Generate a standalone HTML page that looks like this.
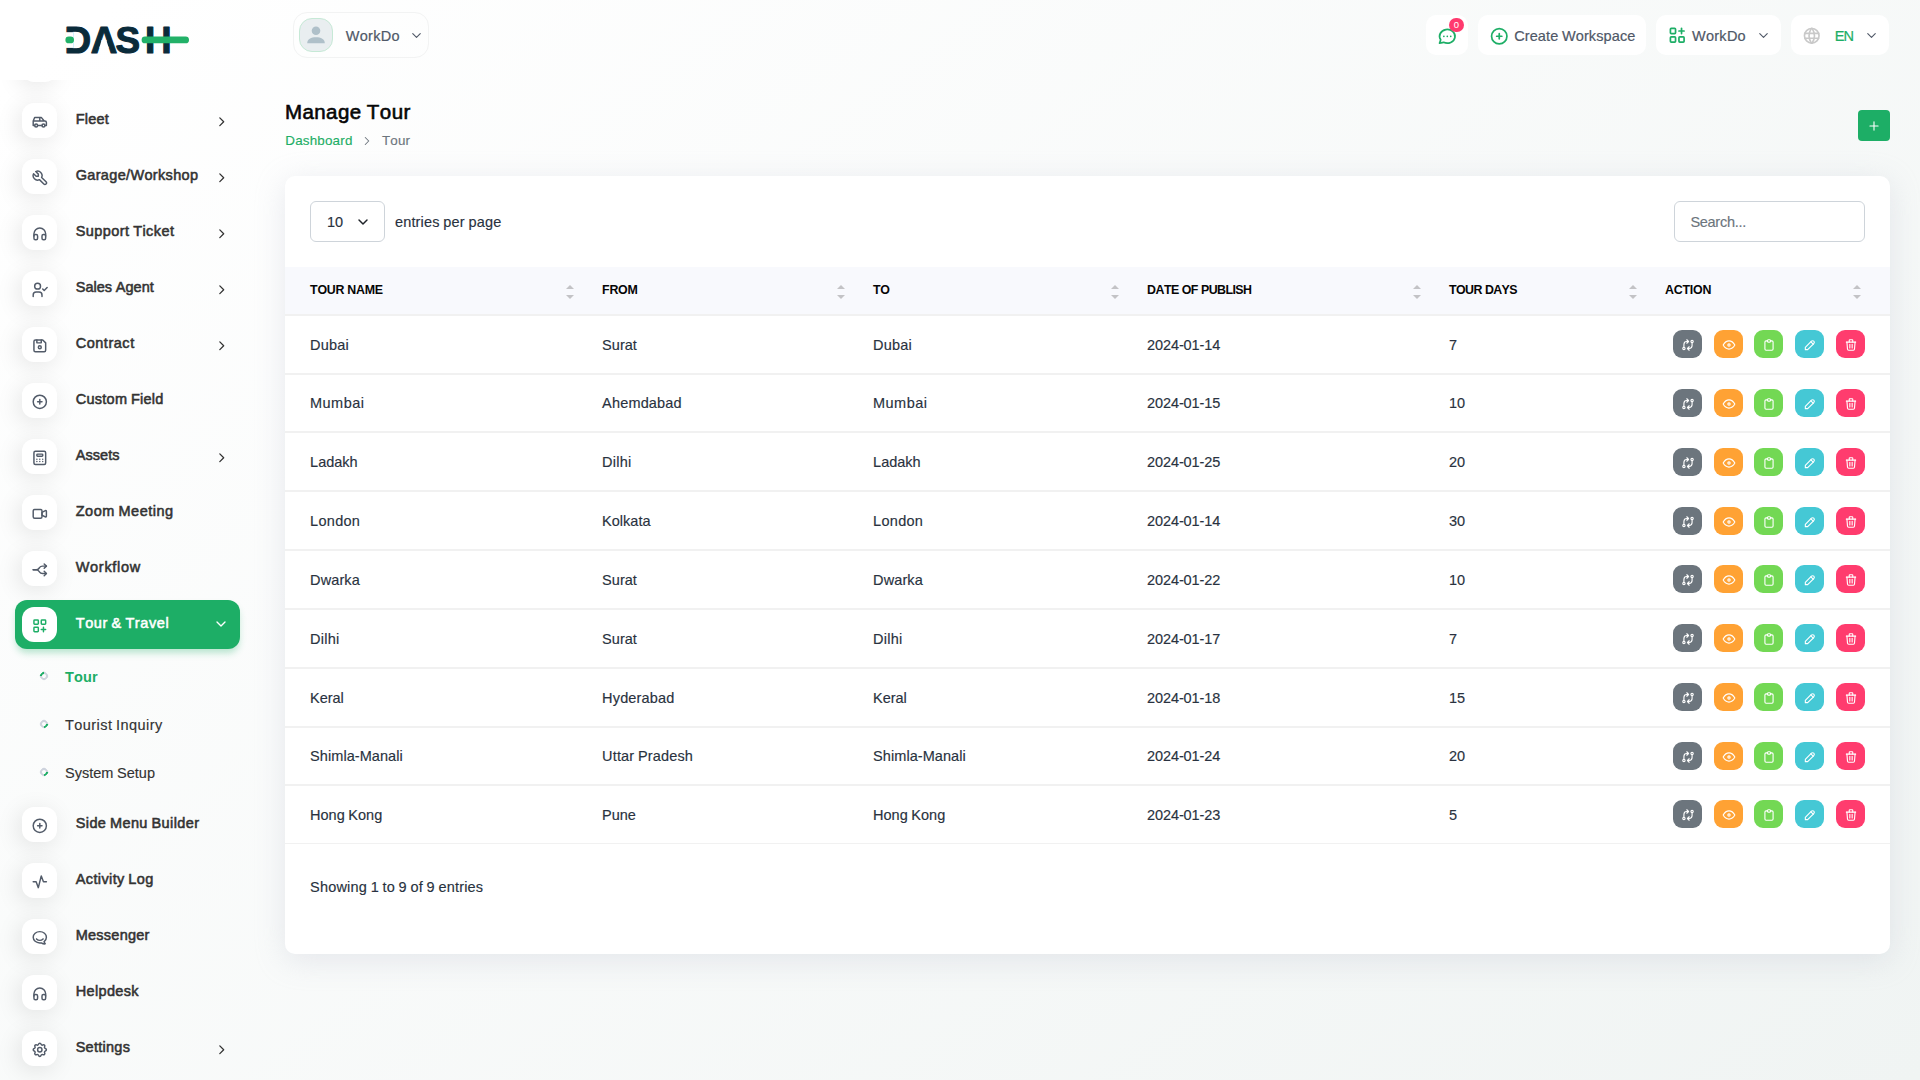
<!DOCTYPE html>
<html lang="en">
<head>
<meta charset="utf-8">
<title>Manage Tour</title>
<style>
*{box-sizing:border-box;margin:0;padding:0}
html,body{width:1920px;height:1080px;overflow:hidden}
body{font-family:"Liberation Sans",sans-serif;font-size:14px;line-height:1.5;color:#293240;font-kerning:none;
 background:linear-gradient(141.55deg,rgba(240,244,243,0) 3.46%,#f0f4f3 99.86%),#fff;position:relative}
svg.ti{display:block}
.abs,main span,main a,header span,nav span,nav a{position:absolute;white-space:nowrap}
a{text-decoration:none}
h4{position:absolute;white-space:nowrap;font-weight:400}
.sidebar{position:absolute;left:0;top:0;width:280px;height:1080px}
.logo{position:absolute;left:0;top:0;width:280px;height:80px}
.nav{position:absolute;left:0;top:80px;width:280px;height:1000px;overflow:hidden}
.mi{width:35px;height:35px;border-radius:12px;background:#fff;box-shadow:-3px 4px 23px rgba(0,0,0,.1)}
.act{left:15px;width:225px;height:49px;border-radius:12px;background:#1DAE66;box-shadow:0 5px 7px -1px rgba(29,174,102,.3)}
.dot{width:8px;height:8px;border-radius:50%;border:2px solid #ced3dd}
.hbox{position:absolute;top:15px;height:40px;background:#fff;border-radius:10px}
.user{position:absolute;left:293px;top:12px;width:136px;height:46px;border:1px solid #f2f3f3;border-radius:14px}
.addbtn{left:1858px;top:110px;width:32px;height:31px;border-radius:4px;background:#1DAE66;color:#fff}
.card{position:absolute;left:285px;top:176px;width:1605px;height:777.5px;background:#fff;border-radius:10px;box-shadow:0 6px 30px rgba(182,186,203,.3)}
.sel,.search{border:1px solid #ced4da;border-radius:6px;background:#fff}
.thead{left:285px;top:267px;width:1605px;height:47px;background:#f8f9fd}
.hr{left:285px;width:1605px;height:2px;background:#f1f1f1}
.btn{width:29px;height:28px;border-radius:9px;color:#fff}
.sort{width:8px;height:14px}
.sort:before,.sort:after{content:"";position:absolute;left:0;border-left:4px solid transparent;border-right:4px solid transparent}
.sort:before{top:0;border-bottom:4px solid #c3c3c6}
.sort:after{bottom:0;border-top:4px solid #c3c3c6}
</style>
</head>
<body>
<nav class="sidebar">
<div class="nav">
<span class="mi" style="left:22px;top:-33px"></span>
<span class="mi" style="left:22px;top:23.0px;"></span><span class="abs" style="left:30.70px;top:33.10px;color:#525b69"><svg class="ti " style="" width="17.6" height="17.6" viewBox="0 0 24 24" fill="none" stroke="currentColor" stroke-width="2" stroke-linecap="round" stroke-linejoin="round"><circle cx="7" cy="17" r="2"/><circle cx="17" cy="17" r="2"/><path d="M5 17h-2v-6l2 -5h9l4 5h1a2 2 0 0 1 2 2v4h-2m-4 0h-6m-6 -6h15m-6 0v-5"/></svg></span><a style="left:75.70px;top:28.98px;font-size:14.5px;line-height:20px;color:#333;letter-spacing:0.233px;-webkit-text-stroke:0.55px #333;">Fleet</a><span class="abs" style="left:214.25px;top:34.35px;color:#333"><svg class="ti " style="" width="15.5" height="15.5" viewBox="0 0 24 24" fill="none" stroke="currentColor" stroke-width="2" stroke-linecap="round" stroke-linejoin="round"><polyline points="9 6 15 12 9 18"/></svg></span>
<span class="mi" style="left:22px;top:79.0px;"></span><span class="abs" style="left:30.70px;top:89.10px;color:#525b69"><svg class="ti " style="" width="17.6" height="17.6" viewBox="0 0 24 24" fill="none" stroke="currentColor" stroke-width="2" stroke-linecap="round" stroke-linejoin="round"><path d="M7 10h3v-3l-3.5 -3.5a6 6 0 0 1 8 8l6 6a2 2 0 0 1 -3 3l-6 -6a6 6 0 0 1 -8 -8l3.5 3.5"/></svg></span><a style="left:75.70px;top:84.98px;font-size:14.5px;line-height:20px;color:#333;letter-spacing:0.336px;-webkit-text-stroke:0.55px #333;">Garage/Workshop</a><span class="abs" style="left:214.25px;top:90.35px;color:#333"><svg class="ti " style="" width="15.5" height="15.5" viewBox="0 0 24 24" fill="none" stroke="currentColor" stroke-width="2" stroke-linecap="round" stroke-linejoin="round"><polyline points="9 6 15 12 9 18"/></svg></span>
<span class="mi" style="left:22px;top:135.0px;"></span><span class="abs" style="left:30.70px;top:145.10px;color:#525b69"><svg class="ti " style="" width="17.6" height="17.6" viewBox="0 0 24 24" fill="none" stroke="currentColor" stroke-width="2" stroke-linecap="round" stroke-linejoin="round"><rect x="4" y="13" rx="2" width="5" height="7"/><rect x="15" y="13" rx="2" width="5" height="7"/><path d="M4 15v-3a8 8 0 0 1 16 0v3"/></svg></span><a style="left:75.70px;top:140.98px;font-size:14.5px;line-height:20px;color:#333;letter-spacing:0.431px;word-spacing:-0.823px;-webkit-text-stroke:0.55px #333;">Support Ticket</a><span class="abs" style="left:214.25px;top:146.35px;color:#333"><svg class="ti " style="" width="15.5" height="15.5" viewBox="0 0 24 24" fill="none" stroke="currentColor" stroke-width="2" stroke-linecap="round" stroke-linejoin="round"><polyline points="9 6 15 12 9 18"/></svg></span>
<span class="mi" style="left:22px;top:191.0px;"></span><span class="abs" style="left:30.70px;top:201.10px;color:#525b69"><svg class="ti " style="" width="17.6" height="17.6" viewBox="0 0 24 24" fill="none" stroke="currentColor" stroke-width="2" stroke-linecap="round" stroke-linejoin="round"><circle cx="9" cy="7" r="4"/><path d="M3 21v-2a4 4 0 0 1 4 -4h4a4 4 0 0 1 4 4v2"/><path d="M16 11l2 2l4 -4"/></svg></span><a style="left:75.70px;top:196.98px;font-size:14.5px;line-height:20px;color:#333;letter-spacing:0.040px;word-spacing:-0.432px;-webkit-text-stroke:0.55px #333;">Sales Agent</a><span class="abs" style="left:214.25px;top:202.35px;color:#333"><svg class="ti " style="" width="15.5" height="15.5" viewBox="0 0 24 24" fill="none" stroke="currentColor" stroke-width="2" stroke-linecap="round" stroke-linejoin="round"><polyline points="9 6 15 12 9 18"/></svg></span>
<span class="mi" style="left:22px;top:247.0px;"></span><span class="abs" style="left:30.70px;top:257.10px;color:#525b69"><svg class="ti " style="" width="17.6" height="17.6" viewBox="0 0 24 24" fill="none" stroke="currentColor" stroke-width="2" stroke-linecap="round" stroke-linejoin="round"><path d="M6 4h10l4 4v10a2 2 0 0 1 -2 2h-12a2 2 0 0 1 -2 -2v-12a2 2 0 0 1 2 -2"/><circle cx="12" cy="14" r="2"/><polyline points="14 4 14 8 8 8 8 4"/></svg></span><a style="left:75.70px;top:252.98px;font-size:14.5px;line-height:20px;color:#333;letter-spacing:0.525px;-webkit-text-stroke:0.55px #333;">Contract</a><span class="abs" style="left:214.25px;top:258.35px;color:#333"><svg class="ti " style="" width="15.5" height="15.5" viewBox="0 0 24 24" fill="none" stroke="currentColor" stroke-width="2" stroke-linecap="round" stroke-linejoin="round"><polyline points="9 6 15 12 9 18"/></svg></span>
<span class="mi" style="left:22px;top:303.0px;"></span><span class="abs" style="left:30.70px;top:313.10px;color:#525b69"><svg class="ti " style="" width="17.6" height="17.6" viewBox="0 0 24 24" fill="none" stroke="currentColor" stroke-width="2" stroke-linecap="round" stroke-linejoin="round"><circle cx="12" cy="12" r="9"/><line x1="9" y1="12" x2="15" y2="12"/><line x1="12" y1="9" x2="12" y2="15"/></svg></span><a style="left:75.70px;top:308.98px;font-size:14.5px;line-height:20px;color:#333;letter-spacing:0.271px;word-spacing:-0.663px;-webkit-text-stroke:0.55px #333;">Custom Field</a>
<span class="mi" style="left:22px;top:359.0px;"></span><span class="abs" style="left:30.70px;top:369.10px;color:#525b69"><svg class="ti " style="" width="17.6" height="17.6" viewBox="0 0 24 24" fill="none" stroke="currentColor" stroke-width="2" stroke-linecap="round" stroke-linejoin="round"><rect x="4" y="3" width="16" height="18" rx="2"/><rect x="8" y="7" width="8" height="3" rx="1"/><line x1="8" y1="14" x2="8" y2="14.01"/><line x1="12" y1="14" x2="12" y2="14.01"/><line x1="16" y1="14" x2="16" y2="14.01"/><line x1="8" y1="17" x2="8" y2="17.01"/><line x1="12" y1="17" x2="12" y2="17.01"/><line x1="16" y1="17" x2="16" y2="17.01"/></svg></span><a style="left:75.70px;top:364.98px;font-size:14.5px;line-height:20px;color:#333;letter-spacing:0.081px;-webkit-text-stroke:0.55px #333;">Assets</a><span class="abs" style="left:214.25px;top:370.35px;color:#333"><svg class="ti " style="" width="15.5" height="15.5" viewBox="0 0 24 24" fill="none" stroke="currentColor" stroke-width="2" stroke-linecap="round" stroke-linejoin="round"><polyline points="9 6 15 12 9 18"/></svg></span>
<span class="mi" style="left:22px;top:415.0px;"></span><span class="abs" style="left:30.70px;top:425.10px;color:#525b69"><svg class="ti " style="" width="17.6" height="17.6" viewBox="0 0 24 24" fill="none" stroke="currentColor" stroke-width="2" stroke-linecap="round" stroke-linejoin="round"><path d="M15 10l4.553 -2.276a1 1 0 0 1 1.447 .894v6.764a1 1 0 0 1 -1.447 .894l-4.553 -2.276v-4z"/><rect x="3" y="6" width="12" height="12" rx="2"/></svg></span><a style="left:75.70px;top:420.98px;font-size:14.5px;line-height:20px;color:#333;letter-spacing:0.519px;word-spacing:-0.911px;-webkit-text-stroke:0.55px #333;">Zoom Meeting</a>
<span class="mi" style="left:22px;top:471.0px;"></span><span class="abs" style="left:30.70px;top:481.10px;color:#525b69"><svg class="ti " style="" width="17.6" height="17.6" viewBox="0 0 24 24" fill="none" stroke="currentColor" stroke-width="2" stroke-linecap="round" stroke-linejoin="round"><path d="M21 17h-5.397a5 5 0 0 1 -4.096 -2.133l-.514 -.734a5 5 0 0 0 -4.096 -2.133h-3.897"/><path d="M21 7h-5.395a5 5 0 0 0 -4.098 2.135l-.51 .73a5 5 0 0 1 -4.097 2.135h-3.9"/><path d="M18 10l3 -3l-3 -3"/><path d="M18 20l3 -3l-3 -3"/></svg></span><a style="left:75.70px;top:476.98px;font-size:14.5px;line-height:20px;color:#333;letter-spacing:0.704px;-webkit-text-stroke:0.55px #333;">Workflow</a>
<span class="act" style="top:520.0px"></span><span class="mi" style="left:22px;top:527.0px;box-shadow:none"></span><span class="abs" style="left:30.70px;top:537.10px;color:#1DAE66"><svg class="ti " style="" width="17.6" height="17.6" viewBox="0 0 24 24" fill="none" stroke="currentColor" stroke-width="2" stroke-linecap="round" stroke-linejoin="round"><rect x="4" y="4" width="6" height="6" rx="1"/><rect x="14" y="4" width="6" height="6" rx="1"/><rect x="4" y="14" width="6" height="6" rx="1"/><path d="M14 17h6m-3 -3v6"/></svg></span><a style="left:75.70px;top:532.98px;font-size:14.5px;line-height:20px;color:#fff;letter-spacing:0.587px;word-spacing:-0.979px;-webkit-text-stroke:0.55px #fff;">Tour &amp; Travel</a><span class="abs" style="left:212.70px;top:535.90px;color:#fff"><svg class="ti " style="" width="16" height="16" viewBox="0 0 24 24" fill="none" stroke="currentColor" stroke-width="2" stroke-linecap="round" stroke-linejoin="round"><polyline points="6 9 12 15 18 9"/></svg></span>
<span class="dot" style="left:40px;top:592.3px;border-left-color:#1DAE66;transform:rotate(45deg)"></span><a style="left:65.10px;top:586.98px;font-size:14.5px;line-height:20px;color:#1DAE66;letter-spacing:0.121px;font-weight:700;">Tour</a>
<span class="dot" style="left:40px;top:640.3px;border-bottom-color:#1DAE66;transform:rotate(-45deg)"></span><a style="left:65.00px;top:634.98px;font-size:14.5px;line-height:20px;color:#333;letter-spacing:0.434px;word-spacing:-0.774px;-webkit-text-stroke:0.15px #333;">Tourist Inquiry</a>
<span class="dot" style="left:40px;top:688.3px;border-bottom-color:#1DAE66;transform:rotate(-45deg)"></span><a style="left:65.00px;top:682.98px;font-size:14.5px;line-height:20px;color:#333;letter-spacing:0.007px;word-spacing:-0.347px;-webkit-text-stroke:0.15px #333;">System Setup</a>
<span class="mi" style="left:22px;top:727.0px;"></span><span class="abs" style="left:30.70px;top:737.10px;color:#525b69"><svg class="ti " style="" width="17.6" height="17.6" viewBox="0 0 24 24" fill="none" stroke="currentColor" stroke-width="2" stroke-linecap="round" stroke-linejoin="round"><circle cx="12" cy="12" r="9"/><line x1="9" y1="12" x2="15" y2="12"/><line x1="12" y1="9" x2="12" y2="15"/></svg></span><a style="left:75.70px;top:732.98px;font-size:14.5px;line-height:20px;color:#333;letter-spacing:0.403px;word-spacing:-0.795px;-webkit-text-stroke:0.55px #333;">Side Menu Builder</a>
<span class="mi" style="left:22px;top:783.0px;"></span><span class="abs" style="left:30.70px;top:793.10px;color:#525b69"><svg class="ti " style="" width="17.6" height="17.6" viewBox="0 0 24 24" fill="none" stroke="currentColor" stroke-width="2" stroke-linecap="round" stroke-linejoin="round"><path d="M3 12h4l3 8l4 -16l3 8h4"/></svg></span><a style="left:75.70px;top:788.98px;font-size:14.5px;line-height:20px;color:#333;letter-spacing:0.386px;word-spacing:-0.778px;-webkit-text-stroke:0.55px #333;">Activity Log</a>
<span class="mi" style="left:22px;top:839.0px;"></span><span class="abs" style="left:30.70px;top:849.10px;color:#525b69"><svg class="ti " style="" width="17.6" height="17.6" viewBox="0 0 24 24" fill="none" stroke="currentColor" stroke-width="2" stroke-linecap="round" stroke-linejoin="round"><path d="M17.802 17.292s.077 -.055 .2 -.149c1.843 -1.425 3 -3.49 3 -5.789c0 -4.286 -4.03 -7.764 -9 -7.764c-4.97 0 -9 3.478 -9 7.764c0 4.288 4.03 7.646 9 7.646c.424 0 1.12 -.028 2.088 -.084c1.262 .82 3.104 1.493 4.716 1.493c.499 0 .734 -.41 .414 -.828c-.486 -.596 -1.156 -1.551 -1.416 -2.29z"/><path d="M7.5 13.5c2.5 2.5 6.5 2.5 9 0"/></svg></span><a style="left:75.70px;top:844.98px;font-size:14.5px;line-height:20px;color:#333;letter-spacing:0.252px;-webkit-text-stroke:0.55px #333;">Messenger</a>
<span class="mi" style="left:22px;top:895.0px;"></span><span class="abs" style="left:30.70px;top:905.10px;color:#525b69"><svg class="ti " style="" width="17.6" height="17.6" viewBox="0 0 24 24" fill="none" stroke="currentColor" stroke-width="2" stroke-linecap="round" stroke-linejoin="round"><rect x="4" y="13" rx="2" width="5" height="7"/><rect x="15" y="13" rx="2" width="5" height="7"/><path d="M4 15v-3a8 8 0 0 1 16 0v3"/></svg></span><a style="left:75.70px;top:900.98px;font-size:14.5px;line-height:20px;color:#333;letter-spacing:0.350px;-webkit-text-stroke:0.55px #333;">Helpdesk</a>
<span class="mi" style="left:22px;top:951.0px;"></span><span class="abs" style="left:30.70px;top:961.10px;color:#525b69"><svg class="ti " style="" width="17.6" height="17.6" viewBox="0 0 24 24" fill="none" stroke="currentColor" stroke-width="2" stroke-linecap="round" stroke-linejoin="round"><path d="M10.325 4.317c.426 -1.756 2.924 -1.756 3.35 0a1.724 1.724 0 0 0 2.573 1.066c1.543 -.94 3.31 .826 2.37 2.37a1.724 1.724 0 0 0 1.065 2.572c1.756 .426 1.756 2.924 0 3.35a1.724 1.724 0 0 0 -1.066 2.573c.94 1.543 -.826 3.31 -2.37 2.37a1.724 1.724 0 0 0 -2.572 1.065c-.426 1.756 -2.924 1.756 -3.35 0a1.724 1.724 0 0 0 -2.573 -1.066c-1.543 .94 -3.31 -.826 -2.37 -2.37a1.724 1.724 0 0 0 -1.065 -2.572c-1.756 -.426 -1.756 -2.924 0 -3.35a1.724 1.724 0 0 0 1.066 -2.573c-.94 -1.543 .826 -3.31 2.37 -2.37c1 .608 2.296 .07 2.572 -1.065z"/><circle cx="12" cy="12" r="3"/></svg></span><a style="left:75.70px;top:956.98px;font-size:14.5px;line-height:20px;color:#333;letter-spacing:0.263px;-webkit-text-stroke:0.55px #333;">Settings</a><span class="abs" style="left:214.25px;top:962.35px;color:#333"><svg class="ti " style="" width="15.5" height="15.5" viewBox="0 0 24 24" fill="none" stroke="currentColor" stroke-width="2" stroke-linecap="round" stroke-linejoin="round"><polyline points="9 6 15 12 9 18"/></svg></span>
</div>
<svg class="logo" viewBox="0 0 280 80" width="280" height="80">
<text y="52.7" font-family="'Liberation Sans',sans-serif" font-weight="700" font-size="36.8" fill="#0a2b3a" stroke="#0a2b3a" stroke-width="1.1" stroke-linejoin="round" style="font-kerning:none" x="64.6 90.7 115.6 144.9">DASH</text>
<rect x="65.86" y="32.18" width="7.20" height="15.72" fill="#fff"/>
<polygon points="101.65,40.12 106.33,40.12 107.03,42.24 108.72,47.67 99.26,47.67 100.95,42.24" fill="#fff"/>
<rect x="65.4" y="36.5" width="8.6" height="6.8" rx="3.4" fill="#22b168"/>
<rect x="141.6" y="36.5" width="47.4" height="6.8" rx="3.4" fill="#22b168"/>
</svg>
</nav>
<header>
<div class="user"><span class="abs" style="left:5px;top:5px;width:34px;height:34px;border-radius:13px;background:#e9eef0;border:1px solid #c6e9d6;overflow:hidden"><svg class="abs" style="left:0;top:0" width="32" height="32" viewBox="0 0 32 32"><circle cx="16" cy="11.8" r="4.3" fill="#afc0c9"/><path d="M7.200 24.200c0-4.200 3.900-6 8.800-6s8.800 1.800 8.800 6z" fill="#afc0c9"/></svg></span><span style="left:51.80px;top:12.98px;font-size:14.5px;line-height:20px;color:#4f5867;letter-spacing:0.263px;-webkit-text-stroke:0.2px #4f5867;">WorkDo</span><span class="abs" style="left:114.90px;top:14.80px;color:#4f5867"><svg class="ti " style="" width="15" height="15" viewBox="0 0 24 24" fill="none" stroke="currentColor" stroke-width="1.8" stroke-linecap="round" stroke-linejoin="round"><polyline points="6 9 12 15 18 9"/></svg></span></div>
<div class="hbox" style="left:1426px;width:42px"><span class="abs" style="left:11.10px;top:10.70px;color:#1DAE66"><svg class="ti " style="" width="20.6" height="20.6" viewBox="0 0 24 24" fill="none" stroke="currentColor" stroke-width="2" stroke-linecap="round" stroke-linejoin="round"><path d="M3 20l1.3 -3.9a9 8 0 1 1 3.4 2.9l-4.7 1"/><line x1="12" y1="12" x2="12" y2="12.01"/><line x1="8" y1="12" x2="8" y2="12.01"/><line x1="16" y1="12" x2="16" y2="12.01"/></svg></span><span class="abs" style="left:23px;top:3px;width:15px;height:14px;border-radius:7.5px;background:#ff3a6e;color:#fff;font-size:9.5px;line-height:14px;text-align:center">0</span></div>
<div class="hbox" style="left:1478px;width:168px"><span class="abs" style="left:11.05px;top:10.65px;color:#1DAE66"><svg class="ti " style="" width="20.5" height="20.5" viewBox="0 0 24 24" fill="none" stroke="currentColor" stroke-width="2" stroke-linecap="round" stroke-linejoin="round"><circle cx="12" cy="12" r="9"/><line x1="9" y1="12" x2="15" y2="12"/><line x1="12" y1="9" x2="12" y2="15"/></svg></span><span style="left:36.20px;top:10.98px;font-size:14.5px;line-height:20px;color:#4f5867;letter-spacing:0.098px;word-spacing:-0.438px;-webkit-text-stroke:0.2px #4f5867;">Create Workspace</span></div>
<div class="hbox" style="left:1656px;width:125px"><span class="abs" style="left:11.05px;top:10.45px;color:#1DAE66"><svg class="ti " style="" width="20.5" height="20.5" viewBox="0 0 24 24" fill="none" stroke="currentColor" stroke-width="2" stroke-linecap="round" stroke-linejoin="round"><rect x="4" y="4" width="6" height="6" rx="1"/><rect x="4" y="14" width="6" height="6" rx="1"/><rect x="14" y="14" width="6" height="6" rx="1"/><line x1="14" y1="7" x2="20" y2="7"/><line x1="17" y1="4" x2="17" y2="10"/></svg></span><span style="left:36.00px;top:10.98px;font-size:14.5px;line-height:20px;color:#4f5867;letter-spacing:0.263px;-webkit-text-stroke:0.2px #4f5867;">WorkDo</span><span class="abs" style="left:99.80px;top:12.80px;color:#4f5867"><svg class="ti " style="" width="15" height="15" viewBox="0 0 24 24" fill="none" stroke="currentColor" stroke-width="1.8" stroke-linecap="round" stroke-linejoin="round"><polyline points="6 9 12 15 18 9"/></svg></span></div>
<div class="hbox" style="left:1791px;width:98px"><span class="abs" style="left:11.45px;top:10.95px;color:#c9c9c9"><svg class="ti " style="" width="19.5" height="19.5" viewBox="0 0 24 24" fill="none" stroke="currentColor" stroke-width="2" stroke-linecap="round" stroke-linejoin="round"><circle cx="12" cy="12" r="9"/><line x1="3.6" y1="9" x2="20.4" y2="9"/><line x1="3.6" y1="15" x2="20.4" y2="15"/><path d="M11.5 3a17 17 0 0 0 0 18"/><path d="M12.5 3a17 17 0 0 1 0 18"/></svg></span><span style="left:43.70px;top:10.98px;font-size:14.5px;line-height:20px;color:#1DAE66;letter-spacing:-0.763px;-webkit-text-stroke:0.2px #1DAE66;">EN</span><span class="abs" style="left:72.80px;top:12.80px;color:#4f5867"><svg class="ti " style="" width="15" height="15" viewBox="0 0 24 24" fill="none" stroke="currentColor" stroke-width="1.8" stroke-linecap="round" stroke-linejoin="round"><polyline points="6 9 12 15 18 9"/></svg></span></div>
</header>
<main>
<h4 style="left:284.90px;top:96.80px;font-size:20.5px;line-height:30px;color:#060606;letter-spacing:0.447px;word-spacing:-0.947px;-webkit-text-stroke:0.6px #060606;">Manage Tour</h4>
<a style="left:285.30px;top:130.66px;font-size:13.4px;line-height:20px;color:#1DAE66;letter-spacing:0.190px;-webkit-text-stroke:0.15px #1DAE66;">Dashboard</a><span class="abs" style="left:360.30px;top:133.70px;color:#6c757d"><svg class="ti " style="" width="14" height="14" viewBox="0 0 24 24" fill="none" stroke="currentColor" stroke-width="1.8" stroke-linecap="round" stroke-linejoin="round"><polyline points="9 6 15 12 9 18"/></svg></span><span style="left:381.90px;top:130.66px;font-size:13.4px;line-height:20px;color:#6c757d;letter-spacing:0.209px;-webkit-text-stroke:0.15px #6c757d;">Tour</span>
<a class="addbtn"><span class="abs" style="left:9.10px;top:8.50px;color:currentColor"><svg class="ti " style="" width="14" height="14" viewBox="0 0 24 24" fill="none" stroke="currentColor" stroke-width="1.9" stroke-linecap="round" stroke-linejoin="round"><line x1="12" y1="5" x2="12" y2="19"/><line x1="5" y1="12" x2="19" y2="12"/></svg></span></a>
<section class="card"></section>
<div class="abs sel" style="left:310px;top:201px;width:75px;height:41px"><span style="left:16.10px;top:9.98px;font-size:14.5px;line-height:20px;color:#293240;letter-spacing:-0.059px;-webkit-text-stroke:0.15px #293240;">10</span><span class="abs" style="left:44.00px;top:11.80px;color:#1f2329"><svg class="ti " style="" width="16" height="16" viewBox="0 0 24 24" fill="none" stroke="currentColor" stroke-width="2.2" stroke-linecap="round" stroke-linejoin="round"><polyline points="6 9 12 15 18 9"/></svg></span></div><span style="left:394.90px;top:211.98px;font-size:14.5px;line-height:20px;color:#293240;letter-spacing:0.182px;word-spacing:-0.574px;-webkit-text-stroke:0.15px #293240;">entries per page</span>
<div class="abs search" style="left:1674px;top:201px;width:191px;height:41px"><span style="left:15.40px;top:9.98px;font-size:14.5px;line-height:20px;color:#6c757d;letter-spacing:-0.277px;-webkit-text-stroke:0.15px #6c757d;">Search...</span></div>
<span class="thead"></span><span class="hr" style="top:314px"></span>
<span style="left:310.10px;top:279.70px;font-size:12.4px;line-height:20px;color:#060606;letter-spacing:-0.260px;word-spacing:-0.068px;font-weight:700;">TOUR NAME</span><i class="abs sort" style="left:565.5px;top:285px"></i><span style="left:602.10px;top:279.70px;font-size:12.4px;line-height:20px;color:#060606;letter-spacing:-0.283px;font-weight:700;">FROM</span><i class="abs sort" style="left:836.5px;top:285px"></i><span style="left:873.10px;top:279.70px;font-size:12.4px;line-height:20px;color:#060606;letter-spacing:-0.360px;font-weight:700;">TO</span><i class="abs sort" style="left:1110.5px;top:285px"></i><span style="left:1147.10px;top:279.70px;font-size:12.4px;line-height:20px;color:#060606;letter-spacing:-0.555px;word-spacing:0.227px;font-weight:700;">DATE OF PUBLISH</span><i class="abs sort" style="left:1412.5px;top:285px"></i><span style="left:1449.10px;top:279.70px;font-size:12.4px;line-height:20px;color:#060606;letter-spacing:-0.604px;word-spacing:0.276px;font-weight:700;">TOUR DAYS</span><i class="abs sort" style="left:1628.5px;top:285px"></i><span style="left:1665.10px;top:279.70px;font-size:12.4px;line-height:20px;color:#060606;letter-spacing:-0.229px;font-weight:700;">ACTION</span><i class="abs sort" style="left:1852.5px;top:285px"></i>
<span style="left:310.10px;top:334.98px;font-size:14.5px;line-height:20px;color:#293240;letter-spacing:0.176px;-webkit-text-stroke:0.15px #293240;">Dubai</span><span style="left:602.10px;top:334.98px;font-size:14.5px;line-height:20px;color:#293240;letter-spacing:0.025px;-webkit-text-stroke:0.15px #293240;">Surat</span><span style="left:873.10px;top:334.98px;font-size:14.5px;line-height:20px;color:#293240;letter-spacing:0.176px;-webkit-text-stroke:0.15px #293240;">Dubai</span><span style="left:1147.10px;top:334.98px;font-size:14.5px;line-height:20px;color:#293240;letter-spacing:-0.112px;-webkit-text-stroke:0.15px #293240;">2024-01-14</span><span style="left:1449.10px;top:334.98px;font-size:14.5px;line-height:20px;color:#293240;letter-spacing:-0.059px;-webkit-text-stroke:0.15px #293240;">7</span><a class="btn" style="left:1673px;top:330px;background:#6c757d"><span class="abs" style="left:7.50px;top:7.60px;color:currentColor"><svg class="ti " style="" width="14" height="14" viewBox="0 0 24 24" fill="none" stroke="currentColor" stroke-width="1.9" stroke-linecap="round" stroke-linejoin="round"><circle cx="5" cy="18" r="2"/><circle cx="19" cy="6" r="2"/><path d="M19 8v5a5 5 0 0 1 -5 5h-3l3 -3m0 6l-3 -3"/><path d="M5 16v-5a5 5 0 0 1 5 -5h3l-3 -3m0 6l3 -3"/></svg></span></a><a class="btn" style="left:1714px;top:330px;background:#ffa234"><span class="abs" style="left:7.50px;top:7.60px;color:currentColor"><svg class="ti " style="" width="14" height="14" viewBox="0 0 24 24" fill="none" stroke="currentColor" stroke-width="1.9" stroke-linecap="round" stroke-linejoin="round"><circle cx="12" cy="12" r="2"/><path d="M22 12c-2.667 4.667 -6 7 -10 7s-7.333 -2.333 -10 -7c2.667 -4.667 6 -7 10 -7s7.333 2.333 10 7"/></svg></span></a><a class="btn" style="left:1754px;top:330px;background:#73d854"><span class="abs" style="left:7.50px;top:7.60px;color:currentColor"><svg class="ti " style="" width="14" height="14" viewBox="0 0 24 24" fill="none" stroke="currentColor" stroke-width="1.9" stroke-linecap="round" stroke-linejoin="round"><path d="M9 5h-2a2 2 0 0 0 -2 2v12a2 2 0 0 0 2 2h10a2 2 0 0 0 2 -2v-12a2 2 0 0 0 -2 -2h-2"/><rect x="9" y="3" width="6" height="4" rx="2"/></svg></span></a><a class="btn" style="left:1795px;top:330px;background:#45c8d5"><span class="abs" style="left:7.50px;top:7.60px;color:currentColor"><svg class="ti " style="" width="14" height="14" viewBox="0 0 24 24" fill="none" stroke="currentColor" stroke-width="1.9" stroke-linecap="round" stroke-linejoin="round"><path d="M4 20h4l10.5 -10.5a1.5 1.5 0 0 0 -4 -4l-10.5 10.5v4"/><line x1="13.5" y1="6.5" x2="17.5" y2="10.5"/></svg></span></a><a class="btn" style="left:1836px;top:330px;background:#ff3c6e"><span class="abs" style="left:7.50px;top:7.60px;color:currentColor"><svg class="ti " style="" width="14" height="14" viewBox="0 0 24 24" fill="none" stroke="currentColor" stroke-width="1.9" stroke-linecap="round" stroke-linejoin="round"><line x1="4" y1="7" x2="20" y2="7"/><line x1="10" y1="11" x2="10" y2="17"/><line x1="14" y1="11" x2="14" y2="17"/><path d="M5 7l1 12a2 2 0 0 0 2 2h8a2 2 0 0 0 2 -2l1 -12"/><path d="M9 7v-3a1 1 0 0 1 1 -1h4a1 1 0 0 1 1 1v3"/></svg></span></a><span class="hr" style="top:373px"></span>
<span style="left:310.10px;top:392.98px;font-size:14.5px;line-height:20px;color:#293240;letter-spacing:0.442px;-webkit-text-stroke:0.15px #293240;">Mumbai</span><span style="left:602.10px;top:392.98px;font-size:14.5px;line-height:20px;color:#293240;letter-spacing:0.167px;-webkit-text-stroke:0.15px #293240;">Ahemdabad</span><span style="left:873.10px;top:392.98px;font-size:14.5px;line-height:20px;color:#293240;letter-spacing:0.442px;-webkit-text-stroke:0.15px #293240;">Mumbai</span><span style="left:1147.10px;top:392.98px;font-size:14.5px;line-height:20px;color:#293240;letter-spacing:-0.112px;-webkit-text-stroke:0.15px #293240;">2024-01-15</span><span style="left:1449.10px;top:392.98px;font-size:14.5px;line-height:20px;color:#293240;letter-spacing:-0.059px;-webkit-text-stroke:0.15px #293240;">10</span><a class="btn" style="left:1673px;top:389px;background:#6c757d"><span class="abs" style="left:7.50px;top:7.60px;color:currentColor"><svg class="ti " style="" width="14" height="14" viewBox="0 0 24 24" fill="none" stroke="currentColor" stroke-width="1.9" stroke-linecap="round" stroke-linejoin="round"><circle cx="5" cy="18" r="2"/><circle cx="19" cy="6" r="2"/><path d="M19 8v5a5 5 0 0 1 -5 5h-3l3 -3m0 6l-3 -3"/><path d="M5 16v-5a5 5 0 0 1 5 -5h3l-3 -3m0 6l3 -3"/></svg></span></a><a class="btn" style="left:1714px;top:389px;background:#ffa234"><span class="abs" style="left:7.50px;top:7.60px;color:currentColor"><svg class="ti " style="" width="14" height="14" viewBox="0 0 24 24" fill="none" stroke="currentColor" stroke-width="1.9" stroke-linecap="round" stroke-linejoin="round"><circle cx="12" cy="12" r="2"/><path d="M22 12c-2.667 4.667 -6 7 -10 7s-7.333 -2.333 -10 -7c2.667 -4.667 6 -7 10 -7s7.333 2.333 10 7"/></svg></span></a><a class="btn" style="left:1754px;top:389px;background:#73d854"><span class="abs" style="left:7.50px;top:7.60px;color:currentColor"><svg class="ti " style="" width="14" height="14" viewBox="0 0 24 24" fill="none" stroke="currentColor" stroke-width="1.9" stroke-linecap="round" stroke-linejoin="round"><path d="M9 5h-2a2 2 0 0 0 -2 2v12a2 2 0 0 0 2 2h10a2 2 0 0 0 2 -2v-12a2 2 0 0 0 -2 -2h-2"/><rect x="9" y="3" width="6" height="4" rx="2"/></svg></span></a><a class="btn" style="left:1795px;top:389px;background:#45c8d5"><span class="abs" style="left:7.50px;top:7.60px;color:currentColor"><svg class="ti " style="" width="14" height="14" viewBox="0 0 24 24" fill="none" stroke="currentColor" stroke-width="1.9" stroke-linecap="round" stroke-linejoin="round"><path d="M4 20h4l10.5 -10.5a1.5 1.5 0 0 0 -4 -4l-10.5 10.5v4"/><line x1="13.5" y1="6.5" x2="17.5" y2="10.5"/></svg></span></a><a class="btn" style="left:1836px;top:389px;background:#ff3c6e"><span class="abs" style="left:7.50px;top:7.60px;color:currentColor"><svg class="ti " style="" width="14" height="14" viewBox="0 0 24 24" fill="none" stroke="currentColor" stroke-width="1.9" stroke-linecap="round" stroke-linejoin="round"><line x1="4" y1="7" x2="20" y2="7"/><line x1="10" y1="11" x2="10" y2="17"/><line x1="14" y1="11" x2="14" y2="17"/><path d="M5 7l1 12a2 2 0 0 0 2 2h8a2 2 0 0 0 2 -2l1 -12"/><path d="M9 7v-3a1 1 0 0 1 1 -1h4a1 1 0 0 1 1 1v3"/></svg></span></a><span class="hr" style="top:431px"></span>
<span style="left:310.10px;top:451.98px;font-size:14.5px;line-height:20px;color:#293240;letter-spacing:-0.025px;-webkit-text-stroke:0.15px #293240;">Ladakh</span><span style="left:602.10px;top:451.98px;font-size:14.5px;line-height:20px;color:#293240;letter-spacing:0.257px;-webkit-text-stroke:0.15px #293240;">Dilhi</span><span style="left:873.10px;top:451.98px;font-size:14.5px;line-height:20px;color:#293240;letter-spacing:-0.025px;-webkit-text-stroke:0.15px #293240;">Ladakh</span><span style="left:1147.10px;top:451.98px;font-size:14.5px;line-height:20px;color:#293240;letter-spacing:-0.112px;-webkit-text-stroke:0.15px #293240;">2024-01-25</span><span style="left:1449.10px;top:451.98px;font-size:14.5px;line-height:20px;color:#293240;letter-spacing:-0.059px;-webkit-text-stroke:0.15px #293240;">20</span><a class="btn" style="left:1673px;top:448px;background:#6c757d"><span class="abs" style="left:7.50px;top:7.60px;color:currentColor"><svg class="ti " style="" width="14" height="14" viewBox="0 0 24 24" fill="none" stroke="currentColor" stroke-width="1.9" stroke-linecap="round" stroke-linejoin="round"><circle cx="5" cy="18" r="2"/><circle cx="19" cy="6" r="2"/><path d="M19 8v5a5 5 0 0 1 -5 5h-3l3 -3m0 6l-3 -3"/><path d="M5 16v-5a5 5 0 0 1 5 -5h3l-3 -3m0 6l3 -3"/></svg></span></a><a class="btn" style="left:1714px;top:448px;background:#ffa234"><span class="abs" style="left:7.50px;top:7.60px;color:currentColor"><svg class="ti " style="" width="14" height="14" viewBox="0 0 24 24" fill="none" stroke="currentColor" stroke-width="1.9" stroke-linecap="round" stroke-linejoin="round"><circle cx="12" cy="12" r="2"/><path d="M22 12c-2.667 4.667 -6 7 -10 7s-7.333 -2.333 -10 -7c2.667 -4.667 6 -7 10 -7s7.333 2.333 10 7"/></svg></span></a><a class="btn" style="left:1754px;top:448px;background:#73d854"><span class="abs" style="left:7.50px;top:7.60px;color:currentColor"><svg class="ti " style="" width="14" height="14" viewBox="0 0 24 24" fill="none" stroke="currentColor" stroke-width="1.9" stroke-linecap="round" stroke-linejoin="round"><path d="M9 5h-2a2 2 0 0 0 -2 2v12a2 2 0 0 0 2 2h10a2 2 0 0 0 2 -2v-12a2 2 0 0 0 -2 -2h-2"/><rect x="9" y="3" width="6" height="4" rx="2"/></svg></span></a><a class="btn" style="left:1795px;top:448px;background:#45c8d5"><span class="abs" style="left:7.50px;top:7.60px;color:currentColor"><svg class="ti " style="" width="14" height="14" viewBox="0 0 24 24" fill="none" stroke="currentColor" stroke-width="1.9" stroke-linecap="round" stroke-linejoin="round"><path d="M4 20h4l10.5 -10.5a1.5 1.5 0 0 0 -4 -4l-10.5 10.5v4"/><line x1="13.5" y1="6.5" x2="17.5" y2="10.5"/></svg></span></a><a class="btn" style="left:1836px;top:448px;background:#ff3c6e"><span class="abs" style="left:7.50px;top:7.60px;color:currentColor"><svg class="ti " style="" width="14" height="14" viewBox="0 0 24 24" fill="none" stroke="currentColor" stroke-width="1.9" stroke-linecap="round" stroke-linejoin="round"><line x1="4" y1="7" x2="20" y2="7"/><line x1="10" y1="11" x2="10" y2="17"/><line x1="14" y1="11" x2="14" y2="17"/><path d="M5 7l1 12a2 2 0 0 0 2 2h8a2 2 0 0 0 2 -2l1 -12"/><path d="M9 7v-3a1 1 0 0 1 1 -1h4a1 1 0 0 1 1 1v3"/></svg></span></a><span class="hr" style="top:490px"></span>
<span style="left:310.10px;top:510.98px;font-size:14.5px;line-height:20px;color:#293240;letter-spacing:0.280px;-webkit-text-stroke:0.15px #293240;">London</span><span style="left:602.10px;top:510.98px;font-size:14.5px;line-height:20px;color:#293240;letter-spacing:0.013px;-webkit-text-stroke:0.15px #293240;">Kolkata</span><span style="left:873.10px;top:510.98px;font-size:14.5px;line-height:20px;color:#293240;letter-spacing:0.280px;-webkit-text-stroke:0.15px #293240;">London</span><span style="left:1147.10px;top:510.98px;font-size:14.5px;line-height:20px;color:#293240;letter-spacing:-0.112px;-webkit-text-stroke:0.15px #293240;">2024-01-14</span><span style="left:1449.10px;top:510.98px;font-size:14.5px;line-height:20px;color:#293240;letter-spacing:-0.059px;-webkit-text-stroke:0.15px #293240;">30</span><a class="btn" style="left:1673px;top:507px;background:#6c757d"><span class="abs" style="left:7.50px;top:7.60px;color:currentColor"><svg class="ti " style="" width="14" height="14" viewBox="0 0 24 24" fill="none" stroke="currentColor" stroke-width="1.9" stroke-linecap="round" stroke-linejoin="round"><circle cx="5" cy="18" r="2"/><circle cx="19" cy="6" r="2"/><path d="M19 8v5a5 5 0 0 1 -5 5h-3l3 -3m0 6l-3 -3"/><path d="M5 16v-5a5 5 0 0 1 5 -5h3l-3 -3m0 6l3 -3"/></svg></span></a><a class="btn" style="left:1714px;top:507px;background:#ffa234"><span class="abs" style="left:7.50px;top:7.60px;color:currentColor"><svg class="ti " style="" width="14" height="14" viewBox="0 0 24 24" fill="none" stroke="currentColor" stroke-width="1.9" stroke-linecap="round" stroke-linejoin="round"><circle cx="12" cy="12" r="2"/><path d="M22 12c-2.667 4.667 -6 7 -10 7s-7.333 -2.333 -10 -7c2.667 -4.667 6 -7 10 -7s7.333 2.333 10 7"/></svg></span></a><a class="btn" style="left:1754px;top:507px;background:#73d854"><span class="abs" style="left:7.50px;top:7.60px;color:currentColor"><svg class="ti " style="" width="14" height="14" viewBox="0 0 24 24" fill="none" stroke="currentColor" stroke-width="1.9" stroke-linecap="round" stroke-linejoin="round"><path d="M9 5h-2a2 2 0 0 0 -2 2v12a2 2 0 0 0 2 2h10a2 2 0 0 0 2 -2v-12a2 2 0 0 0 -2 -2h-2"/><rect x="9" y="3" width="6" height="4" rx="2"/></svg></span></a><a class="btn" style="left:1795px;top:507px;background:#45c8d5"><span class="abs" style="left:7.50px;top:7.60px;color:currentColor"><svg class="ti " style="" width="14" height="14" viewBox="0 0 24 24" fill="none" stroke="currentColor" stroke-width="1.9" stroke-linecap="round" stroke-linejoin="round"><path d="M4 20h4l10.5 -10.5a1.5 1.5 0 0 0 -4 -4l-10.5 10.5v4"/><line x1="13.5" y1="6.5" x2="17.5" y2="10.5"/></svg></span></a><a class="btn" style="left:1836px;top:507px;background:#ff3c6e"><span class="abs" style="left:7.50px;top:7.60px;color:currentColor"><svg class="ti " style="" width="14" height="14" viewBox="0 0 24 24" fill="none" stroke="currentColor" stroke-width="1.9" stroke-linecap="round" stroke-linejoin="round"><line x1="4" y1="7" x2="20" y2="7"/><line x1="10" y1="11" x2="10" y2="17"/><line x1="14" y1="11" x2="14" y2="17"/><path d="M5 7l1 12a2 2 0 0 0 2 2h8a2 2 0 0 0 2 -2l1 -12"/><path d="M9 7v-3a1 1 0 0 1 1 -1h4a1 1 0 0 1 1 1v3"/></svg></span></a><span class="hr" style="top:549px"></span>
<span style="left:310.10px;top:569.98px;font-size:14.5px;line-height:20px;color:#293240;letter-spacing:0.095px;-webkit-text-stroke:0.15px #293240;">Dwarka</span><span style="left:602.10px;top:569.98px;font-size:14.5px;line-height:20px;color:#293240;letter-spacing:0.025px;-webkit-text-stroke:0.15px #293240;">Surat</span><span style="left:873.10px;top:569.98px;font-size:14.5px;line-height:20px;color:#293240;letter-spacing:0.095px;-webkit-text-stroke:0.15px #293240;">Dwarka</span><span style="left:1147.10px;top:569.98px;font-size:14.5px;line-height:20px;color:#293240;letter-spacing:-0.112px;-webkit-text-stroke:0.15px #293240;">2024-01-22</span><span style="left:1449.10px;top:569.98px;font-size:14.5px;line-height:20px;color:#293240;letter-spacing:-0.059px;-webkit-text-stroke:0.15px #293240;">10</span><a class="btn" style="left:1673px;top:565px;background:#6c757d"><span class="abs" style="left:7.50px;top:7.60px;color:currentColor"><svg class="ti " style="" width="14" height="14" viewBox="0 0 24 24" fill="none" stroke="currentColor" stroke-width="1.9" stroke-linecap="round" stroke-linejoin="round"><circle cx="5" cy="18" r="2"/><circle cx="19" cy="6" r="2"/><path d="M19 8v5a5 5 0 0 1 -5 5h-3l3 -3m0 6l-3 -3"/><path d="M5 16v-5a5 5 0 0 1 5 -5h3l-3 -3m0 6l3 -3"/></svg></span></a><a class="btn" style="left:1714px;top:565px;background:#ffa234"><span class="abs" style="left:7.50px;top:7.60px;color:currentColor"><svg class="ti " style="" width="14" height="14" viewBox="0 0 24 24" fill="none" stroke="currentColor" stroke-width="1.9" stroke-linecap="round" stroke-linejoin="round"><circle cx="12" cy="12" r="2"/><path d="M22 12c-2.667 4.667 -6 7 -10 7s-7.333 -2.333 -10 -7c2.667 -4.667 6 -7 10 -7s7.333 2.333 10 7"/></svg></span></a><a class="btn" style="left:1754px;top:565px;background:#73d854"><span class="abs" style="left:7.50px;top:7.60px;color:currentColor"><svg class="ti " style="" width="14" height="14" viewBox="0 0 24 24" fill="none" stroke="currentColor" stroke-width="1.9" stroke-linecap="round" stroke-linejoin="round"><path d="M9 5h-2a2 2 0 0 0 -2 2v12a2 2 0 0 0 2 2h10a2 2 0 0 0 2 -2v-12a2 2 0 0 0 -2 -2h-2"/><rect x="9" y="3" width="6" height="4" rx="2"/></svg></span></a><a class="btn" style="left:1795px;top:565px;background:#45c8d5"><span class="abs" style="left:7.50px;top:7.60px;color:currentColor"><svg class="ti " style="" width="14" height="14" viewBox="0 0 24 24" fill="none" stroke="currentColor" stroke-width="1.9" stroke-linecap="round" stroke-linejoin="round"><path d="M4 20h4l10.5 -10.5a1.5 1.5 0 0 0 -4 -4l-10.5 10.5v4"/><line x1="13.5" y1="6.5" x2="17.5" y2="10.5"/></svg></span></a><a class="btn" style="left:1836px;top:565px;background:#ff3c6e"><span class="abs" style="left:7.50px;top:7.60px;color:currentColor"><svg class="ti " style="" width="14" height="14" viewBox="0 0 24 24" fill="none" stroke="currentColor" stroke-width="1.9" stroke-linecap="round" stroke-linejoin="round"><line x1="4" y1="7" x2="20" y2="7"/><line x1="10" y1="11" x2="10" y2="17"/><line x1="14" y1="11" x2="14" y2="17"/><path d="M5 7l1 12a2 2 0 0 0 2 2h8a2 2 0 0 0 2 -2l1 -12"/><path d="M9 7v-3a1 1 0 0 1 1 -1h4a1 1 0 0 1 1 1v3"/></svg></span></a><span class="hr" style="top:608px"></span>
<span style="left:310.10px;top:628.98px;font-size:14.5px;line-height:20px;color:#293240;letter-spacing:0.257px;-webkit-text-stroke:0.15px #293240;">Dilhi</span><span style="left:602.10px;top:628.98px;font-size:14.5px;line-height:20px;color:#293240;letter-spacing:0.025px;-webkit-text-stroke:0.15px #293240;">Surat</span><span style="left:873.10px;top:628.98px;font-size:14.5px;line-height:20px;color:#293240;letter-spacing:0.257px;-webkit-text-stroke:0.15px #293240;">Dilhi</span><span style="left:1147.10px;top:628.98px;font-size:14.5px;line-height:20px;color:#293240;letter-spacing:-0.112px;-webkit-text-stroke:0.15px #293240;">2024-01-17</span><span style="left:1449.10px;top:628.98px;font-size:14.5px;line-height:20px;color:#293240;letter-spacing:-0.059px;-webkit-text-stroke:0.15px #293240;">7</span><a class="btn" style="left:1673px;top:624px;background:#6c757d"><span class="abs" style="left:7.50px;top:7.60px;color:currentColor"><svg class="ti " style="" width="14" height="14" viewBox="0 0 24 24" fill="none" stroke="currentColor" stroke-width="1.9" stroke-linecap="round" stroke-linejoin="round"><circle cx="5" cy="18" r="2"/><circle cx="19" cy="6" r="2"/><path d="M19 8v5a5 5 0 0 1 -5 5h-3l3 -3m0 6l-3 -3"/><path d="M5 16v-5a5 5 0 0 1 5 -5h3l-3 -3m0 6l3 -3"/></svg></span></a><a class="btn" style="left:1714px;top:624px;background:#ffa234"><span class="abs" style="left:7.50px;top:7.60px;color:currentColor"><svg class="ti " style="" width="14" height="14" viewBox="0 0 24 24" fill="none" stroke="currentColor" stroke-width="1.9" stroke-linecap="round" stroke-linejoin="round"><circle cx="12" cy="12" r="2"/><path d="M22 12c-2.667 4.667 -6 7 -10 7s-7.333 -2.333 -10 -7c2.667 -4.667 6 -7 10 -7s7.333 2.333 10 7"/></svg></span></a><a class="btn" style="left:1754px;top:624px;background:#73d854"><span class="abs" style="left:7.50px;top:7.60px;color:currentColor"><svg class="ti " style="" width="14" height="14" viewBox="0 0 24 24" fill="none" stroke="currentColor" stroke-width="1.9" stroke-linecap="round" stroke-linejoin="round"><path d="M9 5h-2a2 2 0 0 0 -2 2v12a2 2 0 0 0 2 2h10a2 2 0 0 0 2 -2v-12a2 2 0 0 0 -2 -2h-2"/><rect x="9" y="3" width="6" height="4" rx="2"/></svg></span></a><a class="btn" style="left:1795px;top:624px;background:#45c8d5"><span class="abs" style="left:7.50px;top:7.60px;color:currentColor"><svg class="ti " style="" width="14" height="14" viewBox="0 0 24 24" fill="none" stroke="currentColor" stroke-width="1.9" stroke-linecap="round" stroke-linejoin="round"><path d="M4 20h4l10.5 -10.5a1.5 1.5 0 0 0 -4 -4l-10.5 10.5v4"/><line x1="13.5" y1="6.5" x2="17.5" y2="10.5"/></svg></span></a><a class="btn" style="left:1836px;top:624px;background:#ff3c6e"><span class="abs" style="left:7.50px;top:7.60px;color:currentColor"><svg class="ti " style="" width="14" height="14" viewBox="0 0 24 24" fill="none" stroke="currentColor" stroke-width="1.9" stroke-linecap="round" stroke-linejoin="round"><line x1="4" y1="7" x2="20" y2="7"/><line x1="10" y1="11" x2="10" y2="17"/><line x1="14" y1="11" x2="14" y2="17"/><path d="M5 7l1 12a2 2 0 0 0 2 2h8a2 2 0 0 0 2 -2l1 -12"/><path d="M9 7v-3a1 1 0 0 1 1 -1h4a1 1 0 0 1 1 1v3"/></svg></span></a><span class="hr" style="top:667px"></span>
<span style="left:310.10px;top:687.98px;font-size:14.5px;line-height:20px;color:#293240;letter-spacing:-0.072px;-webkit-text-stroke:0.15px #293240;">Keral</span><span style="left:602.10px;top:687.98px;font-size:14.5px;line-height:20px;color:#293240;letter-spacing:0.158px;-webkit-text-stroke:0.15px #293240;">Hyderabad</span><span style="left:873.10px;top:687.98px;font-size:14.5px;line-height:20px;color:#293240;letter-spacing:-0.072px;-webkit-text-stroke:0.15px #293240;">Keral</span><span style="left:1147.10px;top:687.98px;font-size:14.5px;line-height:20px;color:#293240;letter-spacing:-0.112px;-webkit-text-stroke:0.15px #293240;">2024-01-18</span><span style="left:1449.10px;top:687.98px;font-size:14.5px;line-height:20px;color:#293240;letter-spacing:-0.059px;-webkit-text-stroke:0.15px #293240;">15</span><a class="btn" style="left:1673px;top:683px;background:#6c757d"><span class="abs" style="left:7.50px;top:7.60px;color:currentColor"><svg class="ti " style="" width="14" height="14" viewBox="0 0 24 24" fill="none" stroke="currentColor" stroke-width="1.9" stroke-linecap="round" stroke-linejoin="round"><circle cx="5" cy="18" r="2"/><circle cx="19" cy="6" r="2"/><path d="M19 8v5a5 5 0 0 1 -5 5h-3l3 -3m0 6l-3 -3"/><path d="M5 16v-5a5 5 0 0 1 5 -5h3l-3 -3m0 6l3 -3"/></svg></span></a><a class="btn" style="left:1714px;top:683px;background:#ffa234"><span class="abs" style="left:7.50px;top:7.60px;color:currentColor"><svg class="ti " style="" width="14" height="14" viewBox="0 0 24 24" fill="none" stroke="currentColor" stroke-width="1.9" stroke-linecap="round" stroke-linejoin="round"><circle cx="12" cy="12" r="2"/><path d="M22 12c-2.667 4.667 -6 7 -10 7s-7.333 -2.333 -10 -7c2.667 -4.667 6 -7 10 -7s7.333 2.333 10 7"/></svg></span></a><a class="btn" style="left:1754px;top:683px;background:#73d854"><span class="abs" style="left:7.50px;top:7.60px;color:currentColor"><svg class="ti " style="" width="14" height="14" viewBox="0 0 24 24" fill="none" stroke="currentColor" stroke-width="1.9" stroke-linecap="round" stroke-linejoin="round"><path d="M9 5h-2a2 2 0 0 0 -2 2v12a2 2 0 0 0 2 2h10a2 2 0 0 0 2 -2v-12a2 2 0 0 0 -2 -2h-2"/><rect x="9" y="3" width="6" height="4" rx="2"/></svg></span></a><a class="btn" style="left:1795px;top:683px;background:#45c8d5"><span class="abs" style="left:7.50px;top:7.60px;color:currentColor"><svg class="ti " style="" width="14" height="14" viewBox="0 0 24 24" fill="none" stroke="currentColor" stroke-width="1.9" stroke-linecap="round" stroke-linejoin="round"><path d="M4 20h4l10.5 -10.5a1.5 1.5 0 0 0 -4 -4l-10.5 10.5v4"/><line x1="13.5" y1="6.5" x2="17.5" y2="10.5"/></svg></span></a><a class="btn" style="left:1836px;top:683px;background:#ff3c6e"><span class="abs" style="left:7.50px;top:7.60px;color:currentColor"><svg class="ti " style="" width="14" height="14" viewBox="0 0 24 24" fill="none" stroke="currentColor" stroke-width="1.9" stroke-linecap="round" stroke-linejoin="round"><line x1="4" y1="7" x2="20" y2="7"/><line x1="10" y1="11" x2="10" y2="17"/><line x1="14" y1="11" x2="14" y2="17"/><path d="M5 7l1 12a2 2 0 0 0 2 2h8a2 2 0 0 0 2 -2l1 -12"/><path d="M9 7v-3a1 1 0 0 1 1 -1h4a1 1 0 0 1 1 1v3"/></svg></span></a><span class="hr" style="top:726px"></span>
<span style="left:310.10px;top:745.98px;font-size:14.5px;line-height:20px;color:#293240;letter-spacing:0.063px;-webkit-text-stroke:0.15px #293240;">Shimla-Manali</span><span style="left:602.10px;top:745.98px;font-size:14.5px;line-height:20px;color:#293240;letter-spacing:0.154px;word-spacing:-0.546px;-webkit-text-stroke:0.15px #293240;">Uttar Pradesh</span><span style="left:873.10px;top:745.98px;font-size:14.5px;line-height:20px;color:#293240;letter-spacing:0.063px;-webkit-text-stroke:0.15px #293240;">Shimla-Manali</span><span style="left:1147.10px;top:745.98px;font-size:14.5px;line-height:20px;color:#293240;letter-spacing:-0.112px;-webkit-text-stroke:0.15px #293240;">2024-01-24</span><span style="left:1449.10px;top:745.98px;font-size:14.5px;line-height:20px;color:#293240;letter-spacing:-0.059px;-webkit-text-stroke:0.15px #293240;">20</span><a class="btn" style="left:1673px;top:742px;background:#6c757d"><span class="abs" style="left:7.50px;top:7.60px;color:currentColor"><svg class="ti " style="" width="14" height="14" viewBox="0 0 24 24" fill="none" stroke="currentColor" stroke-width="1.9" stroke-linecap="round" stroke-linejoin="round"><circle cx="5" cy="18" r="2"/><circle cx="19" cy="6" r="2"/><path d="M19 8v5a5 5 0 0 1 -5 5h-3l3 -3m0 6l-3 -3"/><path d="M5 16v-5a5 5 0 0 1 5 -5h3l-3 -3m0 6l3 -3"/></svg></span></a><a class="btn" style="left:1714px;top:742px;background:#ffa234"><span class="abs" style="left:7.50px;top:7.60px;color:currentColor"><svg class="ti " style="" width="14" height="14" viewBox="0 0 24 24" fill="none" stroke="currentColor" stroke-width="1.9" stroke-linecap="round" stroke-linejoin="round"><circle cx="12" cy="12" r="2"/><path d="M22 12c-2.667 4.667 -6 7 -10 7s-7.333 -2.333 -10 -7c2.667 -4.667 6 -7 10 -7s7.333 2.333 10 7"/></svg></span></a><a class="btn" style="left:1754px;top:742px;background:#73d854"><span class="abs" style="left:7.50px;top:7.60px;color:currentColor"><svg class="ti " style="" width="14" height="14" viewBox="0 0 24 24" fill="none" stroke="currentColor" stroke-width="1.9" stroke-linecap="round" stroke-linejoin="round"><path d="M9 5h-2a2 2 0 0 0 -2 2v12a2 2 0 0 0 2 2h10a2 2 0 0 0 2 -2v-12a2 2 0 0 0 -2 -2h-2"/><rect x="9" y="3" width="6" height="4" rx="2"/></svg></span></a><a class="btn" style="left:1795px;top:742px;background:#45c8d5"><span class="abs" style="left:7.50px;top:7.60px;color:currentColor"><svg class="ti " style="" width="14" height="14" viewBox="0 0 24 24" fill="none" stroke="currentColor" stroke-width="1.9" stroke-linecap="round" stroke-linejoin="round"><path d="M4 20h4l10.5 -10.5a1.5 1.5 0 0 0 -4 -4l-10.5 10.5v4"/><line x1="13.5" y1="6.5" x2="17.5" y2="10.5"/></svg></span></a><a class="btn" style="left:1836px;top:742px;background:#ff3c6e"><span class="abs" style="left:7.50px;top:7.60px;color:currentColor"><svg class="ti " style="" width="14" height="14" viewBox="0 0 24 24" fill="none" stroke="currentColor" stroke-width="1.9" stroke-linecap="round" stroke-linejoin="round"><line x1="4" y1="7" x2="20" y2="7"/><line x1="10" y1="11" x2="10" y2="17"/><line x1="14" y1="11" x2="14" y2="17"/><path d="M5 7l1 12a2 2 0 0 0 2 2h8a2 2 0 0 0 2 -2l1 -12"/><path d="M9 7v-3a1 1 0 0 1 1 -1h4a1 1 0 0 1 1 1v3"/></svg></span></a><span class="hr" style="top:784px"></span>
<span style="left:310.10px;top:804.98px;font-size:14.5px;line-height:20px;color:#293240;letter-spacing:-0.006px;word-spacing:-0.386px;-webkit-text-stroke:0.15px #293240;">Hong Kong</span><span style="left:602.10px;top:804.98px;font-size:14.5px;line-height:20px;color:#293240;letter-spacing:-0.068px;-webkit-text-stroke:0.15px #293240;">Pune</span><span style="left:873.10px;top:804.98px;font-size:14.5px;line-height:20px;color:#293240;letter-spacing:-0.006px;word-spacing:-0.386px;-webkit-text-stroke:0.15px #293240;">Hong Kong</span><span style="left:1147.10px;top:804.98px;font-size:14.5px;line-height:20px;color:#293240;letter-spacing:-0.112px;-webkit-text-stroke:0.15px #293240;">2024-01-23</span><span style="left:1449.10px;top:804.98px;font-size:14.5px;line-height:20px;color:#293240;letter-spacing:-0.059px;-webkit-text-stroke:0.15px #293240;">5</span><a class="btn" style="left:1673px;top:800px;background:#6c757d"><span class="abs" style="left:7.50px;top:7.60px;color:currentColor"><svg class="ti " style="" width="14" height="14" viewBox="0 0 24 24" fill="none" stroke="currentColor" stroke-width="1.9" stroke-linecap="round" stroke-linejoin="round"><circle cx="5" cy="18" r="2"/><circle cx="19" cy="6" r="2"/><path d="M19 8v5a5 5 0 0 1 -5 5h-3l3 -3m0 6l-3 -3"/><path d="M5 16v-5a5 5 0 0 1 5 -5h3l-3 -3m0 6l3 -3"/></svg></span></a><a class="btn" style="left:1714px;top:800px;background:#ffa234"><span class="abs" style="left:7.50px;top:7.60px;color:currentColor"><svg class="ti " style="" width="14" height="14" viewBox="0 0 24 24" fill="none" stroke="currentColor" stroke-width="1.9" stroke-linecap="round" stroke-linejoin="round"><circle cx="12" cy="12" r="2"/><path d="M22 12c-2.667 4.667 -6 7 -10 7s-7.333 -2.333 -10 -7c2.667 -4.667 6 -7 10 -7s7.333 2.333 10 7"/></svg></span></a><a class="btn" style="left:1754px;top:800px;background:#73d854"><span class="abs" style="left:7.50px;top:7.60px;color:currentColor"><svg class="ti " style="" width="14" height="14" viewBox="0 0 24 24" fill="none" stroke="currentColor" stroke-width="1.9" stroke-linecap="round" stroke-linejoin="round"><path d="M9 5h-2a2 2 0 0 0 -2 2v12a2 2 0 0 0 2 2h10a2 2 0 0 0 2 -2v-12a2 2 0 0 0 -2 -2h-2"/><rect x="9" y="3" width="6" height="4" rx="2"/></svg></span></a><a class="btn" style="left:1795px;top:800px;background:#45c8d5"><span class="abs" style="left:7.50px;top:7.60px;color:currentColor"><svg class="ti " style="" width="14" height="14" viewBox="0 0 24 24" fill="none" stroke="currentColor" stroke-width="1.9" stroke-linecap="round" stroke-linejoin="round"><path d="M4 20h4l10.5 -10.5a1.5 1.5 0 0 0 -4 -4l-10.5 10.5v4"/><line x1="13.5" y1="6.5" x2="17.5" y2="10.5"/></svg></span></a><a class="btn" style="left:1836px;top:800px;background:#ff3c6e"><span class="abs" style="left:7.50px;top:7.60px;color:currentColor"><svg class="ti " style="" width="14" height="14" viewBox="0 0 24 24" fill="none" stroke="currentColor" stroke-width="1.9" stroke-linecap="round" stroke-linejoin="round"><line x1="4" y1="7" x2="20" y2="7"/><line x1="10" y1="11" x2="10" y2="17"/><line x1="14" y1="11" x2="14" y2="17"/><path d="M5 7l1 12a2 2 0 0 0 2 2h8a2 2 0 0 0 2 -2l1 -12"/><path d="M9 7v-3a1 1 0 0 1 1 -1h4a1 1 0 0 1 1 1v3"/></svg></span></a><span class="hr" style="top:843px;height:1px"></span>
<span style="left:310.10px;top:876.58px;font-size:14.5px;line-height:20px;color:#293240;letter-spacing:0.184px;word-spacing:-0.576px;-webkit-text-stroke:0.15px #293240;">Showing 1 to 9 of 9 entries</span>
</main>
</body>
</html>
